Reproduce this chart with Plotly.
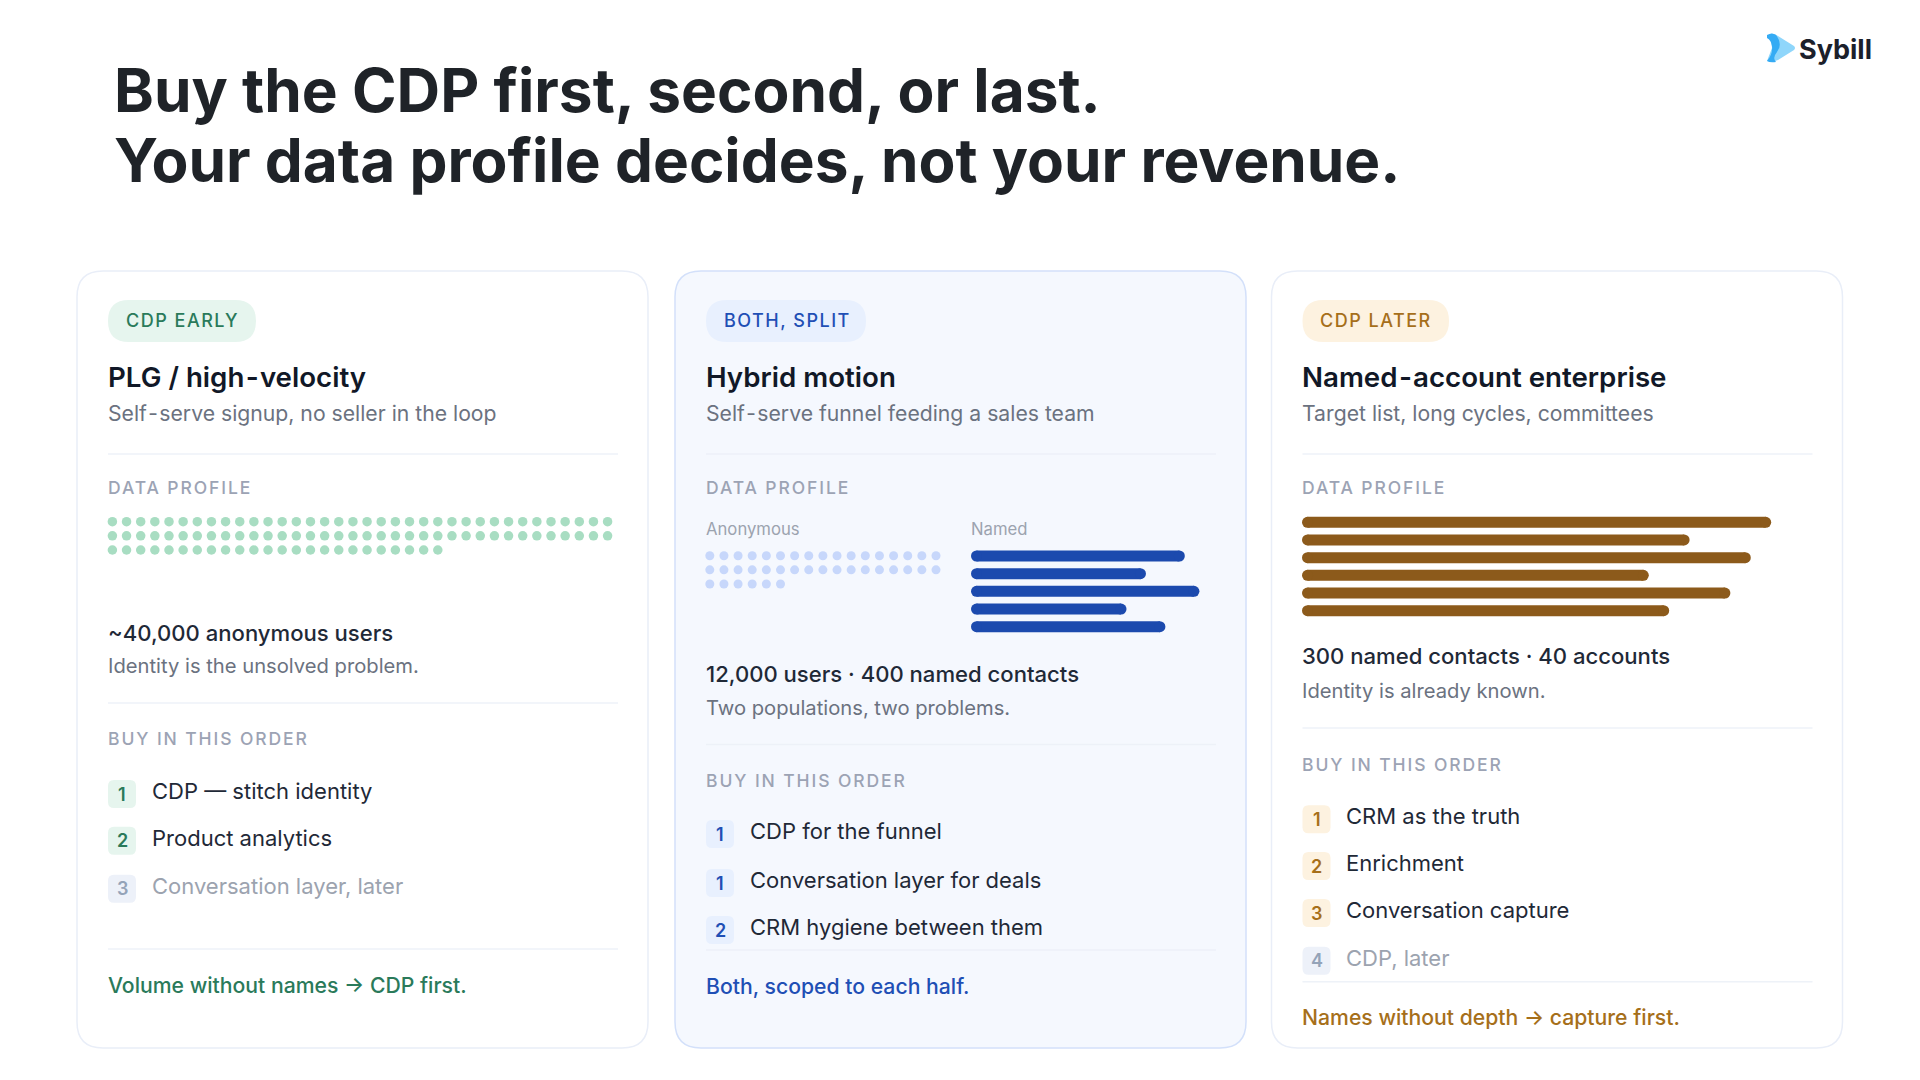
import json
import plotly.graph_objects as go

# text content
title_lines = ["Buy the CDP first, second, or last.", "Your data profile decides, not your revenue."]
logo_text = "Sybill"
pills = ["CDP EARLY", "BOTH, SPLIT", "CDP LATER"]
names = ["PLG / high\u2011velocity", "Hybrid motion", "Named\u2011account enterprise"]
subtitles = ["Self\u2011serve signup, no seller in the loop", "Self\u2011serve funnel feeding a sales team", "Target list, long cycles, committees"]
stats = ["~40,000 anonymous users", "12,000 users · 400 named contacts", "300 named contacts · 40 accounts"]
stat_notes = ["Identity is the unsolved problem.", "Two populations, two problems.", "Identity is already known."]
footers = ["Volume without names → CDP first.", "Both, scoped to each half.", "Names without depth → capture first."]
profile_label = "DATA PROFILE"
order_label = "BUY IN THIS ORDER"
column_labels = ["Anonymous", "Named"]

order_items = [
	["CDP — stitch identity", "Product analytics", "Conversation layer, later"],
	["CDP for the funnel", "Conversation layer for deals", "CRM hygiene between them"],
	["CRM as the truth", "Enrichment", "Conversation capture", "CDP, later"],
]
order_ranks = [[1, 2, 3], [1, 1, 2], [1, 2, 3, 4]]
order_muted = [[False, False, True], [False, False, False], [False, False, False, True]]

# data marks: dots per row, and bar lengths in percent of the track
early_dots = [36, 36, 24]
split_dots = [17, 17, 6]
split_bars = [88, 72, 94, 64, 80]
later_bars = [92, 76, 88, 68, 84, 72]

# colours per card
accent = ["#2A7A5A", "#1F4FB5", "#A66F1A"]
tint = ["#E6F5EE", "#E8F0FE", "#FDF2E0"]
card_fill = ["#FFFFFF", "#F5F8FE", "#FFFFFF"]
card_line = ["#E9EEF8", "#D3E0FA", "#E9EEF8"]
rule_color = ["#EEF2F8", "#EDF1F8", "#EEF2F8"]

W, H = 1920, 1080
card_left = [77, 675, 1271.5]
card_w = 571
pad = 31
# annotations sit a little right of their x
text_nudge = 2.4

# vertical layout per card
stat_y = [633, 673.5, 656]
note_y = [665.5, 707.5, 690.5]
rule2_y = [703, 744.5, 728]
order_y = [738.7, 780, 764]
item_y = [[791, 837.7, 885.7], [831, 880, 927], [816.3, 863, 910, 957.7]]
rule3_y = [949, 950, 981.7]
footer_y = [985, 986, 1017]
pill_w = [148, 160, 146.5]


def rounded(x0, y0, x1, y1, r):
	return (f"M{x0+r},{y0} L{x1-r},{y0} Q{x1},{y0} {x1},{y0+r} L{x1},{y1-r} Q{x1},{y1} {x1-r},{y1} "
		f"L{x0+r},{y1} Q{x0},{y1} {x0},{y1-r} L{x0},{y0+r} Q{x0},{y0} {x0+r},{y0} Z")


shapes = []
annotations = []


def box(x0, y0, x1, y1, r, fill, line=None):
	shapes.append(dict(type="path", path=rounded(x0, y0, x1, y1, r), xref="x", yref="y", fillcolor=fill,
		line=dict(color=line or fill, width=1.5 if line else 0), layer="below"))


def rule(x0, x1, y, color):
	shapes.append(dict(type="line", x0=x0, x1=x1, y0=y, y1=y, xref="x", yref="y", line=dict(color=color, width=1.5), layer="below"))


def label(x, y, text, size, color, weight=400, anchor="left"):
	if anchor == "left":
		x = x - text_nudge
	annotations.append(dict(x=x, y=y, xref="x", yref="y", text=text, showarrow=False, xanchor=anchor, yanchor="middle",
		font=dict(family="Inter", size=size, color=color, weight=weight)))


def wide_hyphen(text, gap):
	# the reference leaves a small gap each side of the hyphen
	i = text.find("\u2011")
	if i < 1:
		return text
	return text[:i - 1] + f'<span style="letter-spacing:{gap}px">' + text[i - 1:i + 1] + "</span>" + text[i + 1:]


def domain(lo, hi, total):
	return [lo / total, hi / total]


def ydomain(top, bottom):
	return [1 - bottom / H, 1 - top / H]


fig = go.Figure()
# invisible trace so the main pixel axes exist
fig.add_trace(go.Scatter(x=[0, W], y=[0, H], mode="markers", marker=dict(opacity=0), hoverinfo="skip", showlegend=False))

layout_axes = dict(
	xaxis=dict(range=[0, W], domain=[0, 1], visible=False, fixedrange=True),
	yaxis=dict(range=[H, 0], domain=[0, 1], visible=False, fixedrange=True),
)


def add_dots(n, counts, x_first, x_last, y_first, y_last, size, color):
	xs, ys = [], []
	for row in range(len(counts)):
		for col in range(counts[row]):
			xs.append(col)
			ys.append(row)
	cols = max(counts) - 1
	rows = len(counts) - 1
	step_x = (x_last - x_first) / cols
	step_y = (y_last - y_first) / rows
	layout_axes[f"xaxis{n}"] = dict(domain=domain(x_first - step_x / 2, x_last + step_x / 2, W), range=[-0.5, cols + 0.5],
		anchor=f"y{n}", visible=False, fixedrange=True)
	layout_axes[f"yaxis{n}"] = dict(domain=ydomain(y_first - step_y / 2, y_last + step_y / 2), range=[rows + 0.5, -0.5],
		anchor=f"x{n}", visible=False, fixedrange=True)
	fig.add_trace(go.Scatter(x=xs, y=ys, xaxis=f"x{n}", yaxis=f"y{n}", mode="markers", hoverinfo="skip", showlegend=False,
		marker=dict(size=size, color=color, line=dict(width=0))))


def add_bars(n, values, x_left, track, y_first, y_last, color):
	step = (y_last - y_first) / (len(values) - 1)
	thick = 11
	# thick lines with a dot on each end, since plotly bars only round one end
	cap = (thick / 2) / track * 100
	xs, ys = [], []
	for row in range(len(values)):
		xs += [cap, values[row] - cap, None]
		ys += [row, row, None]
	layout_axes[f"xaxis{n}"] = dict(domain=domain(x_left, x_left + track, W), range=[0, 100], anchor=f"y{n}", visible=False, fixedrange=True)
	layout_axes[f"yaxis{n}"] = dict(domain=ydomain(y_first - step / 2, y_last + step / 2), range=[len(values) - 0.5, -0.5],
		anchor=f"x{n}", visible=False, fixedrange=True)
	fig.add_trace(go.Scatter(x=xs, y=ys, xaxis=f"x{n}", yaxis=f"y{n}", mode="lines+markers", hoverinfo="skip", showlegend=False,
		line=dict(color=color, width=thick), marker=dict(color=color, size=thick, line=dict(width=0))))


# title and logo
label(114, 90.5, title_lines[0], 60.3, "#1F2328", 700)
label(114, 160.5, title_lines[1], 60.3, "#1F2328", 700)
shapes.append(dict(type="path", xref="x", yref="y", layer="below", fillcolor="#8FD6FB", line=dict(width=0),
	path="M1770,34 Q1774,33 1778,36 L1794,46 Q1796,48 1794,50 L1778,60 Q1772,63 1767,61 L1772,48 Z"))
shapes.append(dict(type="path", xref="x", yref="y", layer="below", fillcolor="#35ABF4", line=dict(width=0),
	path="M1767,35 Q1772,32 1776,35 Q1783,44 1777,52 Q1772,58 1776,62 Q1770,63 1767,61 Q1773,54 1772,46 Q1771,40 1767,38 Z"))
label(1799, 49.5, logo_text, 27, "#1B202B", 700)

# cards
for i in range(3):
	x0 = card_left[i]
	tx = x0 + pad
	rx = x0 + pad + 510
	box(x0, 271, x0 + card_w, 1048, 26, card_fill[i], card_line[i])
	box(tx, 300, tx + pill_w[i], 342, 21, tint[i])
	label(tx + 18, 320, pills[i], 18, accent[i], 500)
	label(tx, 377, wide_hyphen(names[i], 1.9), 27.7, "#111827", 600)
	label(tx, 412.5, wide_hyphen(subtitles[i], 2.4), 21.2, "#6B7280")
	rule(tx, rx, 454, rule_color[i])
	label(tx, 487, profile_label, 17.5, "#9CA3B4", 500)
	label(tx, stat_y[i], stats[i], 22.1, "#1F2937", 500)
	label(tx, note_y[i], stat_notes[i], 20.2, "#6B7280")
	rule(tx, rx, rule2_y[i], rule_color[i])
	label(tx, order_y[i], order_label, 17.5, "#9CA3B4", 500)
	for j in range(len(order_items[i])):
		muted = order_muted[i][j]
		y = item_y[i][j]
		box(tx, y - 11, tx + 28, y + 17, 6, "#EDF1F9" if muted else tint[i])
		label(tx + 14, y + 3, str(order_ranks[i][j]), 18, "#94A3B8" if muted else accent[i], 600, "center")
		label(tx + 44, y, order_items[i][j], 22, "#9CA3AF" if muted else "#1F2937")
	rule(tx, rx, rule3_y[i], rule_color[i])
	label(tx, footer_y[i], footers[i], 21.2, accent[i], 500)

label(706, 528.7, column_labels[0], 16.7, "#9CA3AF")
label(971, 528.7, column_labels[1], 16.7, "#9CA3AF")

add_dots(2, early_dots, 112.4, 607.6, 521.7, 550, 9.5, "#A8DDC2")
add_dots(3, split_dots, 709.8, 936, 555.7, 584, 9, "#C7D7FB")
add_bars(4, split_bars, 971, 243, 556, 626.7, "#1C4AAE")
add_bars(5, later_bars, 1302, 510, 522.3, 610.7, "#8C5A1B")

fig.update_layout(width=W, height=H, margin=dict(l=0, r=0, t=0, b=0), paper_bgcolor="#FFFFFF", plot_bgcolor="rgba(0,0,0,0)",
	shapes=shapes, annotations=annotations, showlegend=False, **layout_axes)

# plotly has no letter spacing setting, so the small caps labels get it here
# annotation text is centred on its x, so move it by half of the added width
spaced = json.dumps({**{p: 1.5 for p in pills}, profile_label: 1.9, order_label: 1.9})
post = ("document.body.style.margin='0';var spaced=" + spaced + ";document.querySelectorAll('.annotation-text').forEach(function(t){"
	"var s=spaced[t.textContent];if(s){t.style.letterSpacing=s+'px';"
	"t.setAttribute('x',parseFloat(t.getAttribute('x'))+s*t.textContent.length/2);}});")

fig.write_html("out.html", post_script=post, config=dict(displayModeBar=False))
